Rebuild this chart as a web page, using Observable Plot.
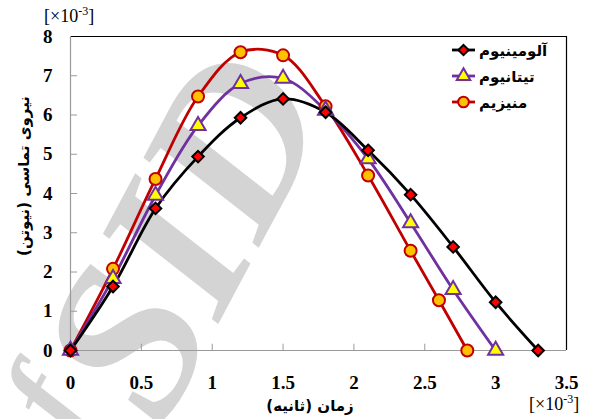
<!DOCTYPE html>
<html>
<head>
<meta charset="utf-8">
<script src="https://cdn.jsdelivr.net/npm/d3@7"></script>
<script src="https://cdn.jsdelivr.net/npm/@observablehq/plot@0.6"></script>
<style>
  html, body { margin: 0; padding: 0; background: #fff; }
  #chart { position: relative; width: 591px; height: 419px; }
</style>
</head>
<body>
<div id="chart"></div>
<script>
// Data (time ×10^-3 s, force ×10^-3 N)
const seriesNames = ["آلومینیوم", "تیتانیوم", "منیزیم"];
const alTime = [0, 0.3, 0.6, 0.9, 1.2, 1.5, 1.8, 2.1, 2.4, 2.7, 3.0, 3.3];
const alForce = [0, 1.63, 3.62, 4.94, 5.93, 6.41, 6.07, 5.1, 3.97, 2.64, 1.23, 0];
const tiTime = [0, 0.3, 0.6, 0.9, 1.2, 1.5, 1.8, 2.1, 2.4, 2.7, 3.0];
const tiForce = [0, 1.83, 3.95, 5.73, 6.8, 6.93, 6.12, 4.88, 3.25, 1.55, 0];
const mgTime = [0, 0.3, 0.6, 0.9, 1.2, 1.5, 1.8, 2.1, 2.4, 2.6, 2.8];
const mgForce = [0, 2.08, 4.37, 6.47, 7.6, 7.52, 6.22, 4.46, 2.54, 1.28, 0];
const xTicks = [0, 0.5, 1, 1.5, 2, 2.5, 3, 3.5];
const yTicks = [0, 1, 2, 3, 4, 5, 6, 7, 8];
const xTickLabels = ["0", "0.5", "1", "1.5", "2", "2.5", "3", "3.5"];
const xTitle = "زمان (ثانیه)";
const yTitle = "نیروی تماسی (نیوتن)";

const styles = [
  {line: "#000000", fill: "#ff0000", stroke: "#000000", symbol: "diamond2", r: 5.2},
  {line: "#7030a0", fill: "#ffff00", stroke: "#7030a0", symbol: "triangle", r: 5.6},
  {line: "#c00000", fill: "#ffc000", stroke: "#c00000", symbol: "circle", r: 6}
];

const mk = (t, f, i) => t.map((x, j) => ({x, y: f[j], s: seriesNames[i]}));
const sets = [mk(alTime, alForce, 0), mk(tiTime, tiForce, 1), mk(mgTime, mgForce, 2)];

const W = 591, H = 419;
const marks = [];
// inward ticks
marks.push(Plot.ruleX(xTicks, {x: d => d, y1: 0, y2: 0.16, stroke: "#9a9a9a", strokeWidth: 1}));
marks.push(Plot.ruleY(yTicks, {y: d => d, x1: 0, x2: 0.05, stroke: "#9a9a9a", strokeWidth: 1}));
// frame
marks.push(Plot.ruleY([8], {stroke: "#000", strokeWidth: 1.2}));
marks.push(Plot.ruleX([3.5], {stroke: "#000", strokeWidth: 1.2}));
marks.push(Plot.ruleX([0], {stroke: "#9a9a9a", strokeWidth: 1.2}));
marks.push(Plot.ruleY([0], {stroke: "#9a9a9a", strokeWidth: 1.2}));
[2, 1, 0].forEach(i => {
  marks.push(Plot.line(sets[i], {x: "x", y: "y", stroke: styles[i].line, strokeWidth: 2.8, curve: "catmull-rom"}));
});
[2, 1, 0].forEach(i => {
  marks.push(Plot.dot(sets[i], {x: "x", y: "y", symbol: styles[i].symbol, r: styles[i].r,
    fill: styles[i].fill, stroke: styles[i].stroke, strokeWidth: 2}));
});
marks.push(Plot.axisX(xTicks, {tickSize: 0, tickPadding: 25, tickFormat: (d, i) => xTickLabels[i],
  fontSize: 19, fontWeight: "bold", fontFamily: "Liberation Serif", fill: "#000", label: null}));
marks.push(Plot.axisY(yTicks, {tickSize: 0, tickPadding: 18, fontSize: 19, fontWeight: "bold",
  fontFamily: "Liberation Serif", fill: "#000", label: null}));

const chart = Plot.plot({
  width: W, height: H,
  marginLeft: 70, marginRight: 25, marginTop: 36, marginBottom: 69,
  x: {domain: [0, 3.5]},
  y: {domain: [0, 8]},
  style: {background: "#fff", overflow: "hidden"},
  marks
});
document.getElementById("chart").appendChild(chart);

const svg = d3.select(chart);
// watermark behind everything
const wm = svg.insert("g", ":first-child");
wm.append("text").attr("transform", "translate(248,268) rotate(-62)")
  .attr("text-anchor", "middle").attr("font-family", "Liberation Serif").attr("font-style", "italic")
  .attr("font-weight", "bold").attr("font-size", 220).attr("fill", "#d4d4d4").text("SID");
wm.append("text").attr("transform", "translate(80,418) rotate(-62)")
  .attr("text-anchor", "middle").attr("font-family", "Liberation Serif").attr("font-style", "italic")
  .attr("font-weight", "bold").attr("font-size", 120).attr("fill", "#d4d4d4").text("f");

// titles
svg.append("text").attr("x", 310).attr("y", 411).attr("text-anchor", "middle")
  .attr("font-family", "DejaVu Sans").attr("font-weight", "bold").attr("font-size", 15).attr("direction", "rtl")
  .text(xTitle);
svg.append("text").attr("transform", "translate(29,176) rotate(-90)").attr("text-anchor", "middle")
  .attr("font-family", "DejaVu Sans").attr("font-weight", "bold").attr("font-size", 15).attr("direction", "rtl")
  .text(yTitle);
function mult(x, y) {
  const t = svg.append("text").attr("x", x).attr("y", y).attr("font-family", "Liberation Serif")
    .attr("font-size", 18).attr("fill", "#000").attr("text-anchor", "start");
  t.append("tspan").text("[×10");
  t.append("tspan").attr("dy", -7).attr("font-size", 12).text("-3");
  t.append("tspan").attr("dy", 7).text("]");
}
mult(44, 22);
mult(529, 410);

// legend
const legendY = [50, 76, 102];
const lg = svg.append("g");
styles.forEach((s, i) => {
  const y = legendY[i];
  lg.append("line").attr("x1", 452).attr("x2", 475).attr("y1", y).attr("y2", y)
    .attr("stroke", s.line).attr("stroke-width", 2.8);
  const sym = s.symbol === "diamond2" ? d3.symbolDiamond2 : s.symbol === "triangle" ? d3.symbolTriangle : d3.symbolCircle;
  lg.append("path").attr("d", d3.symbol(sym, Math.PI * s.r * s.r * 0.8)())
    .attr("transform", `translate(463.5,${y})`).attr("fill", s.fill).attr("stroke", s.stroke).attr("stroke-width", 2);
  lg.append("text").attr("x", 479).attr("y", y + 6).attr("text-anchor", "start")
    .attr("font-family", "DejaVu Sans").attr("font-weight", "bold").attr("font-size", 15)
    .attr("direction", "ltr").text(seriesNames[i]);
});
</script>
</body>
</html>
